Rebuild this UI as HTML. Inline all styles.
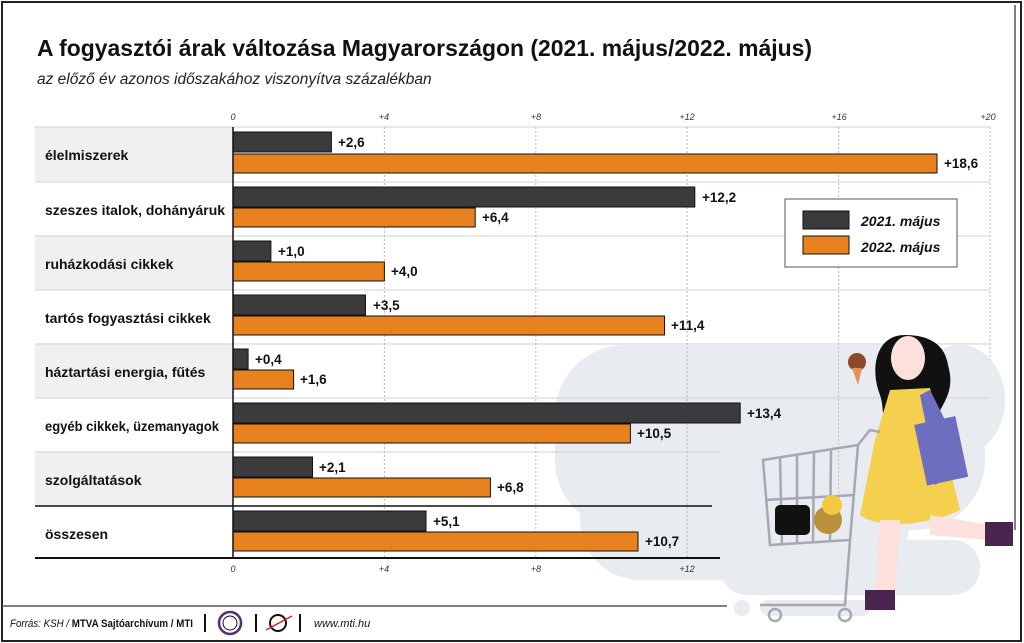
<!DOCTYPE html>
<html><head><meta charset="utf-8"><style>
body{margin:0;background:#fff}
svg{display:block}
text{font-family:"Liberation Sans",sans-serif}
.lab{font-size:14px;font-weight:bold;fill:#111}
.val{font-size:13.5px;font-weight:bold;fill:#111}
.tk{font-size:9px;font-style:italic;fill:#333}
</style></head><body>
<svg width="1024" height="643" viewBox="0 0 1024 643" xmlns="http://www.w3.org/2000/svg">
<rect x="2" y="2" width="1019" height="639" fill="#fff" stroke="#222" stroke-width="2"/>
<line x1="2" y1="606" x2="727" y2="606" stroke="#555" stroke-width="1.5"/>
<line x1="1015" y1="5" x2="1015" y2="530" stroke="#555" stroke-width="1.5"/>
<text x="37" y="56" font-size="23" font-weight="bold" fill="#111" textLength="775" lengthAdjust="spacingAndGlyphs">A fogyasztói árak változása Magyarországon (2021. május/2022. május)</text>
<text x="37" y="84" font-size="15.5" font-style="italic" fill="#222">az előző év azonos időszakához viszonyítva százalékban</text>

<!-- illustration background -->
<g fill="#e8ebf0">
<rect x="555" y="345" width="430" height="185" rx="70"/>
<ellipse cx="960" cy="400" rx="45" ry="55"/>
<rect x="580" y="440" width="330" height="140" rx="60"/>
<rect x="720" y="540" width="260" height="55" rx="27"/>
<circle cx="742" cy="608" r="8"/><circle cx="770" cy="608" r="8"/>
<rect x="760" y="600" width="110" height="16" rx="8"/>
<circle cx="968" cy="577" r="7"/>
</g>

<!-- row backgrounds -->
<g fill="#f0f0f3">
<rect x="35" y="127" width="198" height="54"/>
<rect x="35" y="236" width="198" height="54"/>
<rect x="35" y="344" width="198" height="54"/>
<rect x="35" y="452" width="198" height="54"/>
</g>
<g stroke="#cfcfe0" stroke-width="1">
<line x1="35" y1="127" x2="990" y2="127"/>
<line x1="35" y1="182" x2="990" y2="182"/>
<line x1="35" y1="236" x2="990" y2="236"/>
<line x1="35" y1="290" x2="990" y2="290"/>
<line x1="35" y1="344" x2="990" y2="344"/>
<line x1="35" y1="398" x2="990" y2="398"/>
<line x1="35" y1="452" x2="720" y2="452"/>
</g>
<line x1="35" y1="506" x2="712" y2="506" stroke="#111" stroke-width="1.5"/>
<line x1="35" y1="558" x2="720" y2="558" stroke="#111" stroke-width="2"/>

<!-- grid -->
<g stroke="#bbb" stroke-width="1" stroke-dasharray="2,2">
<line x1="384.4" y1="127" x2="384.4" y2="558"/>
<line x1="535.8" y1="127" x2="535.8" y2="558"/>
<line x1="687.2" y1="127" x2="687.2" y2="558"/>
<line x1="838.6" y1="127" x2="838.6" y2="520"/>
<line x1="990" y1="127" x2="990" y2="360"/>
</g>
<g class="tk" text-anchor="middle">
<text x="233" y="120">0</text><text x="384" y="120">+4</text><text x="536" y="120">+8</text><text x="687" y="120">+12</text><text x="839" y="120">+16</text><text x="988" y="120">+20</text>
<text x="233" y="572">0</text><text x="384" y="572">+4</text><text x="536" y="572">+8</text><text x="687" y="572">+12</text>
</g>

<!-- labels -->
<g class="lab">
<text x="45" y="160">élelmiszerek</text>
<text x="45" y="215" textLength="180" lengthAdjust="spacingAndGlyphs">szeszes italok, dohányáruk</text>
<text x="45" y="269">ruházkodási cikkek</text>
<text x="45" y="323">tartós fogyasztási cikkek</text>
<text x="45" y="377">háztartási energia, fűtés</text>
<text x="45" y="431" textLength="174" lengthAdjust="spacingAndGlyphs">egyéb cikkek, üzemanyagok</text>
<text x="45" y="485">szolgáltatások</text>
<text x="45" y="539">összesen</text>
</g>

<!-- bars -->
<g stroke="#111" stroke-width="1">
<g fill="#3b3b3e">
<rect x="233" y="132" width="98.4" height="20"/>
<rect x="233" y="187" width="461.8" height="20"/>
<rect x="233" y="241" width="37.9" height="20"/>
<rect x="233" y="295" width="132.5" height="20"/>
<rect x="233" y="349" width="15.1" height="20"/>
<rect x="233" y="403" width="507.2" height="20"/>
<rect x="233" y="457" width="79.5" height="20"/>
<rect x="233" y="511" width="193" height="20"/>
</g>
<g fill="#e8821e">
<rect x="233" y="154" width="704" height="19"/>
<rect x="233" y="208" width="242.2" height="19"/>
<rect x="233" y="262" width="151.4" height="19"/>
<rect x="233" y="316" width="431.5" height="19"/>
<rect x="233" y="370" width="60.6" height="19"/>
<rect x="233" y="424" width="397.4" height="19"/>
<rect x="233" y="478" width="257.4" height="19"/>
<rect x="233" y="532" width="405" height="19"/>
</g>
</g>
<line x1="233" y1="127" x2="233" y2="558" stroke="#111" stroke-width="1.5"/>
<g class="val">
<text x="338" y="147">+2,6</text><text x="944" y="168">+18,6</text>
<text x="702" y="202">+12,2</text><text x="482" y="222">+6,4</text>
<text x="278" y="256">+1,0</text><text x="391" y="276">+4,0</text>
<text x="373" y="310">+3,5</text><text x="671" y="330">+11,4</text>
<text x="255" y="364">+0,4</text><text x="300" y="384">+1,6</text>
<text x="747" y="418">+13,4</text><text x="637" y="438">+10,5</text>
<text x="319" y="472">+2,1</text><text x="497" y="492">+6,8</text>
<text x="433" y="526">+5,1</text><text x="645" y="546">+10,7</text>
</g>

<!-- legend -->
<rect x="785" y="199" width="172" height="68" fill="#fff" stroke="#555" stroke-width="1"/>
<rect x="803" y="211" width="46" height="18" fill="#3b3b3e" stroke="#111"/>
<rect x="803" y="236" width="46" height="18" fill="#e8821e" stroke="#111"/>
<text x="861" y="226" font-size="14" font-weight="bold" font-style="italic" fill="#111">2021. május</text>
<text x="861" y="252" font-size="14" font-weight="bold" font-style="italic" fill="#111">2022. május</text>

<!-- woman & cart (simplified) -->
<g>
<path d="M905 335 C875 335 870 370 880 395 C885 410 880 420 890 425 L935 420 C945 400 955 390 948 365 C945 345 930 335 905 335Z" fill="#111"/>
<ellipse cx="908" cy="358" rx="17" ry="22" fill="#fde0dc"/>
<circle cx="857" cy="362" r="9" fill="#8b4a2b"/>
<path d="M852 368 L862 368 L858 385Z" fill="#e5915a"/>
<path d="M890 390 L930 388 L960 510 C930 525 880 530 860 515 L875 440Z" fill="#f5cf4e"/>
<path d="M920 395 L930 390 L945 420 L960 470 L935 485 L925 420Z" fill="#6e6ec0"/>
<rect x="920" y="420" width="42" height="62" fill="#6e6ec0" transform="rotate(-12 940 450)"/>
<path d="M880 520 L900 520 L895 595 L875 595Z" fill="#fde0dc"/>
<path d="M930 515 L990 525 L988 540 L930 535Z" fill="#fde0dc"/>
<rect x="865" y="590" width="30" height="20" fill="#4a2550"/>
<rect x="985" y="522" width="28" height="24" fill="#4a2550"/>
<g stroke="#a6a8b5" stroke-width="2.5" fill="none">
<path d="M763 460 L858 445 L850 540 L770 545Z"/>
<line x1="780" y1="458" x2="782" y2="545"/><line x1="797" y1="455" x2="797" y2="543"/><line x1="814" y1="452" x2="813" y2="542"/><line x1="831" y1="450" x2="830" y2="541"/>
<line x1="765" y1="500" x2="855" y2="495"/>
<path d="M858 445 L870 430 L880 432"/>
<path d="M850 540 L845 605 L760 605"/>
<circle cx="775" cy="615" r="6"/><circle cx="845" cy="615" r="6"/>
</g>
<rect x="775" y="505" width="35" height="30" rx="5" fill="#111"/>
<circle cx="828" cy="520" r="14" fill="#b8913a"/>
<circle cx="832" cy="505" r="10" fill="#f5c842"/>
</g>

<!-- footer -->
<text x="10" y="627" font-size="11" fill="#111" textLength="183" lengthAdjust="spacingAndGlyphs"><tspan font-style="italic">Forrás: KSH / </tspan><tspan font-weight="bold">MTVA Sajtóarchívum / MTI</tspan></text>
<rect x="204" y="614" width="2" height="18" fill="#111"/>
<circle cx="230" cy="623" r="11" fill="none" stroke="#5b2a7a" stroke-width="2.5"/>
<circle cx="230" cy="623" r="7" fill="none" stroke="#111" stroke-width="1"/>
<rect x="255" y="614" width="2" height="18" fill="#111"/>
<circle cx="278" cy="623" r="8" fill="none" stroke="#111" stroke-width="2"/>
<line x1="266" y1="630" x2="292" y2="616" stroke="#d22" stroke-width="1.5"/>
<rect x="299" y="614" width="2" height="18" fill="#111"/>
<text x="314" y="627" font-size="11" font-style="italic" fill="#111">www.mti.hu</text>
</svg>
</body></html>
